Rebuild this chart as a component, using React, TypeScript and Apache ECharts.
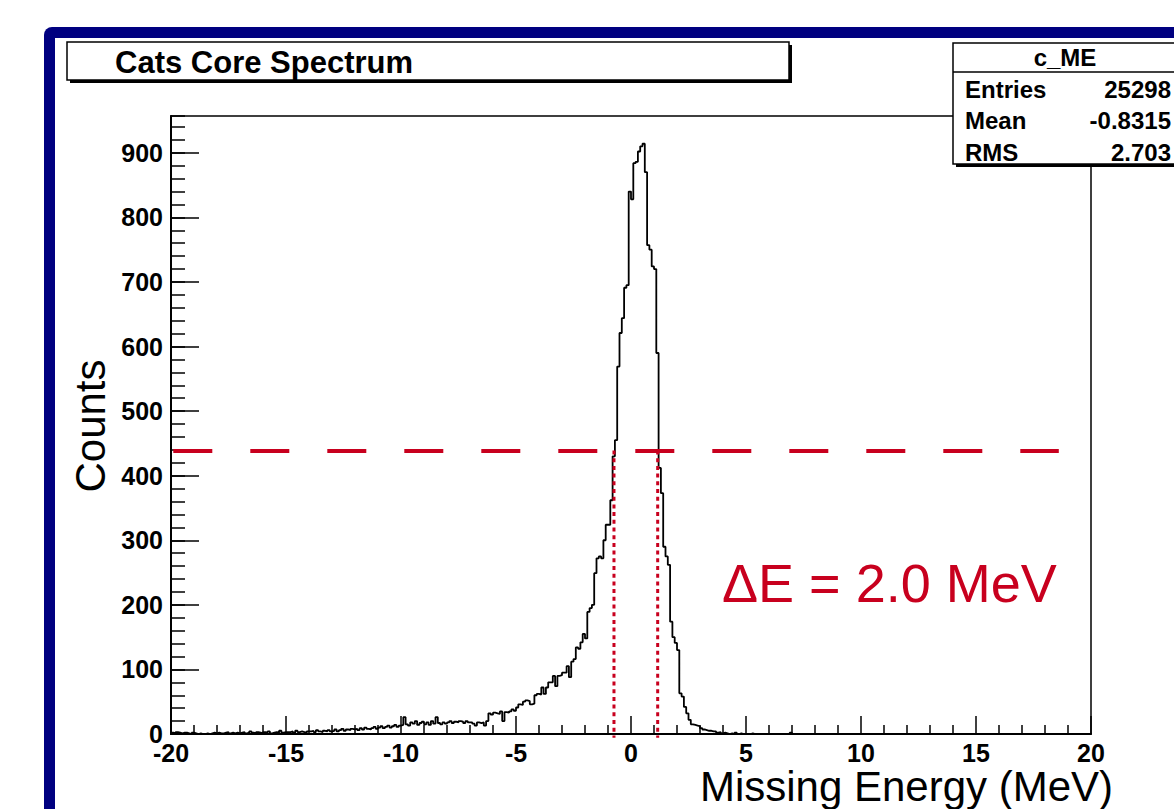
import React, { useEffect, useRef } from "react";
import * as echarts from "echarts";

// ---- data ----
const BIN_START = -20;
const BIN_WIDTH = 0.1;
const X_MIN = -20;
const X_MAX = 20;
const Y_MAX = 957;

// counts per 0.1 MeV bin, from -20.0 to 19.9
const counts: number[] = [
  2, 1, 3, 2, 1, 2, 2, 1, 0, 2,
  1, 0, 1, 0, 0, 1, 0, 1, 2, 1,
  2, 1, 1, 2, 3, 1, 2, 1, 2, 1,
  2, 3, 1, 2, 4, 2, 1, 3, 2, 1,
  3, 2, 4, 1, 2, 3, 2, 5, 2, 3,
  3, 3, 4, 2, 5, 3, 4, 3, 2, 4,
  4, 5, 3, 6, 4, 3, 5, 4, 6, 4,
  5, 7, 4, 6, 8, 5, 7, 6, 8, 7,
  8, 6, 9, 7, 10, 8, 7, 9, 11, 8,
  10, 12, 9, 11, 13, 10, 12, 14, 11, 13,
  14, 26, 15, 13, 18, 16, 20, 14, 17, 19,
  15, 18, 14, 20, 16, 26, 17, 15, 18, 16,
  18, 20, 17, 19, 18, 20, 19, 17, 20, 18,
  18, 16, 13, 18, 17, 18, 13, 20, 32, 30,
  33, 32, 31, 35, 20, 34, 33, 35, 38, 36,
  41, 46, 45, 50, 52, 51, 46, 47, 60, 62,
  61, 72, 62, 72, 80, 80, 90, 74, 90, 91,
  95, 95, 105, 88, 112, 116, 134, 132, 142, 155,
  148, 189, 195, 200, 249, 272, 275, 272, 300, 324,
  324, 362, 430, 455, 569, 621, 644, 691, 695, 840,
  828, 884, 886, 902, 910, 914, 870, 757, 750, 724,
  720, 590, 412, 373, 290, 275, 262, 174, 150, 141,
  130, 63, 58, 42, 32, 22, 15, 14, 13, 12,
  9, 7, 6, 5, 5, 4, 4, 2, 3, 1,
  2, 1, 0, 1, 0, 2, 0, 1, 0, 0,
  0, 0, 1, 0, 0, 0, 0, 0, 0, 0,
  0, 0, 0, 0, 0, 0, 0, 0, 0, 2,
  0, 0, 0, 0, 0, 0, 0, 0, 0, 0,
  0, 0, 0, 0, 0, 0, 0, 0, 0, 0,
  0, 0, 0, 0, 0, 0, 0, 0, 0, 0,
  0, 0, 0, 0, 0, 0, 0, 0, 0, 0,
  0, 0, 0, 0, 0, 0, 0, 0, 0, 0,
  0, 0, 0, 0, 0, 0, 0, 0, 0, 0,
  0, 0, 0, 0, 0, 0, 0, 0, 0, 0,
  0, 0, 0, 0, 0, 0, 0, 0, 0, 0,
  0, 0, 0, 0, 0, 0, 0, 0, 0, 0,
  0, 0, 0, 0, 0, 0, 0, 0, 0, 0,
  0, 0, 0, 0, 0, 0, 0, 0, 0, 0,
  0, 0, 0, 0, 0, 0, 0, 0, 0, 0,
  0, 0, 0, 0, 0, 0, 0, 0, 0, 0,
];

const statsTitle = "c_ME";
const statsNames = ["Entries", "Mean", "RMS"];
const statsValues = ["25298", "-0.8315", "2.703"];

const HALF_MAX = 439;
const FWHM_LEFT = -0.74;
const FWHM_RIGHT = 1.16;
const DASH_FROM = -19.9;
const DASH_TO = 18.6;
const DOT_BOTTOM = -6;

const TITLE = "Cats Core Spectrum";
const X_TITLE = "Missing Energy (MeV)";
const Y_TITLE = "Counts";
const DELTA_TEXT = "\u0394E = 2.0 MeV";

const FONT = "'Liberation Sans', Arial, Helvetica, sans-serif";
const RED = "#c8001e";
const NAVY = "#000080";

export default function App() {
  const ref = useRef<HTMLDivElement>(null);

  useEffect(() => {
    if (!ref.current) return;
    const chart = echarts.init(ref.current, undefined, { renderer: "svg" });

    const histData: number[][] = counts.map((c, i) => [BIN_START + i * BIN_WIDTH, c]);
    histData.push([X_MAX, counts[counts.length - 1]]);

    const option: any = {
      animation: false,
      backgroundColor: "transparent",
      textStyle: { fontFamily: FONT },
      grid: {
        left: 171,
        right: 83,
        top: 116,
        bottom: 75,
        show: true,
        borderColor: "#000",
        borderWidth: 1.5,
        backgroundColor: "transparent",
      },
      xAxis: [
        {
          type: "value",
          min: X_MIN,
          max: X_MAX,
          interval: 5,
          axisLine: { show: true, onZero: false, lineStyle: { color: "#000", width: 2 } },
          axisTick: { show: true, inside: true, length: 18, lineStyle: { color: "#000", width: 1.5 } },
          minorTick: { show: true, splitNumber: 5, length: 9, lineStyle: { color: "#000", width: 1.5 } },
          axisLabel: { color: "#000", fontSize: 25, fontWeight: "bold", margin: 10, lineHeight: 18, fontFamily: FONT },
          splitLine: { show: false },
          minorSplitLine: { show: false },
        },
      ],
      yAxis: [
        {
          type: "value",
          min: 0,
          max: Y_MAX,
          interval: 100,
          axisLine: { show: true, onZero: false, lineStyle: { color: "#000", width: 2 } },
          axisTick: { show: true, inside: true, length: 28, lineStyle: { color: "#000", width: 1.5 } },
          axisLabel: { color: "#000", fontSize: 25, fontWeight: "bold", margin: 8, lineHeight: 18, fontFamily: FONT, showMaxLabel: false },
          splitLine: { show: false },
        },
        {
          type: "value",
          min: 0,
          max: Y_MAX,
          interval: 20,
          position: "left",
          axisLine: { show: false, onZero: false },
          axisTick: { show: true, inside: true, length: 14, lineStyle: { color: "#000", width: 1.5 } },
          axisLabel: { show: false },
          splitLine: { show: false },
        },
      ],
      series: [
        {
          type: "line",
          step: "end",
          data: histData,
          xAxisIndex: 0,
          yAxisIndex: 0,
          showSymbol: false,
          symbol: "none",
          lineStyle: { color: "#000", width: 1.8 },
          emphasis: { disabled: true },
          z: 3,
          markLine: {
            silent: true,
            symbol: ["none", "none"],
            label: { show: false },
            emphasis: { disabled: true },
            z: 4,
            data: [
              [
                { coord: [DASH_FROM, HALF_MAX], lineStyle: { color: RED, width: 4, type: [39, 38] } },
                { coord: [DASH_TO, HALF_MAX] },
              ],
            ],
          },
        },
      ],
    };

    chart.setOption(option);

    // dotted FWHM markers, placed through the chart's own scales
    const dotLines = [FWHM_LEFT, FWHM_RIGHT].map((xv) => {
      const top = chart.convertToPixel({ gridIndex: 0 }, [xv, HALF_MAX]) as number[];
      const bot = chart.convertToPixel({ gridIndex: 0 }, [xv, DOT_BOTTOM]) as number[];
      return {
        type: "line",
        z: 20,
        silent: true,
        shape: { x1: top[0], y1: top[1], x2: bot[0], y2: bot[1] },
        style: { stroke: RED, lineWidth: 3, lineDash: [4, 3.7] },
      };
    });

    const statsRowsGraphic: any[] = [];
    statsNames.forEach((n, i) => {
      statsRowsGraphic.push({
        type: "text",
        z: 12,
        style: { text: n, x: 965, y: 89 + i * 31.5, fill: "#000", font: `bold 24px ${FONT}`, textAlign: "left", textVerticalAlign: "middle" },
      });
      statsRowsGraphic.push({
        type: "text",
        z: 12,
        style: { text: statsValues[i], x: 1171, y: 89 + i * 31.5, fill: "#000", font: `bold 24px ${FONT}`, textAlign: "right", textVerticalAlign: "middle" },
      });
    });

    chart.setOption({
      graphic: [
        { type: "rect", z: -10, silent: true, shape: { x: 44, y: 27, width: 1400, height: 1000, r: 8 }, style: { fill: NAVY } },
        { type: "rect", z: -9, silent: true, shape: { x: 55, y: 38, width: 1400, height: 1000 }, style: { fill: "#fff" } },
        // title box
        { type: "rect", z: 10, silent: true, shape: { x: 70, y: 45, width: 722, height: 38 }, style: { fill: "#000" } },
        { type: "rect", z: 11, silent: true, shape: { x: 67, y: 42, width: 722, height: 38 }, style: { fill: "#fff", stroke: "#000", lineWidth: 1.5 } },
        {
          type: "text",
          z: 12,
          style: { text: TITLE, x: 115, y: 62, fill: "#000", font: `bold 31px ${FONT}`, textAlign: "left", textVerticalAlign: "middle" },
        },
        // stats box
        { type: "rect", z: 10, silent: true, shape: { x: 956, y: 46, width: 240, height: 121 }, style: { fill: "#000" } },
        { type: "rect", z: 11, silent: true, shape: { x: 953, y: 43, width: 240, height: 121 }, style: { fill: "#fff", stroke: "#000", lineWidth: 1.5 } },
        { type: "line", z: 12, silent: true, shape: { x1: 953, y1: 72, x2: 1193, y2: 72 }, style: { stroke: "#000", lineWidth: 1.5 } },
        {
          type: "text",
          z: 12,
          style: { text: statsTitle, x: 1065, y: 57, fill: "#000", font: `bold 24px ${FONT}`, textAlign: "center", textVerticalAlign: "middle" },
        },
        ...statsRowsGraphic,
        // axis titles
        {
          type: "text",
          z: 12,
          x: 90,
          y: 426,
          rotation: Math.PI / 2,
          style: { text: Y_TITLE, x: 0, y: 0, fill: "#000", font: `42px ${FONT}`, textAlign: "center", textVerticalAlign: "middle" },
        },
        {
          type: "text",
          z: 12,
          style: { text: X_TITLE, x: 1113, y: 786, fill: "#000", font: `42px ${FONT}`, lineHeight: 34, textAlign: "right", textVerticalAlign: "middle" },
        },
        {
          type: "text",
          z: 12,
          style: { text: DELTA_TEXT, x: 722, y: 583, fill: RED, font: `54px ${FONT}`, textAlign: "left", textVerticalAlign: "middle" },
        },
        ...dotLines,
      ],
    });

    return () => {
      chart.dispose();
    };
  }, []);

  return (
    <div
      ref={ref}
      style={{ position: "fixed", left: 0, top: 0, width: 1174, height: 809, background: "#fff" }}
    />
  );
}
